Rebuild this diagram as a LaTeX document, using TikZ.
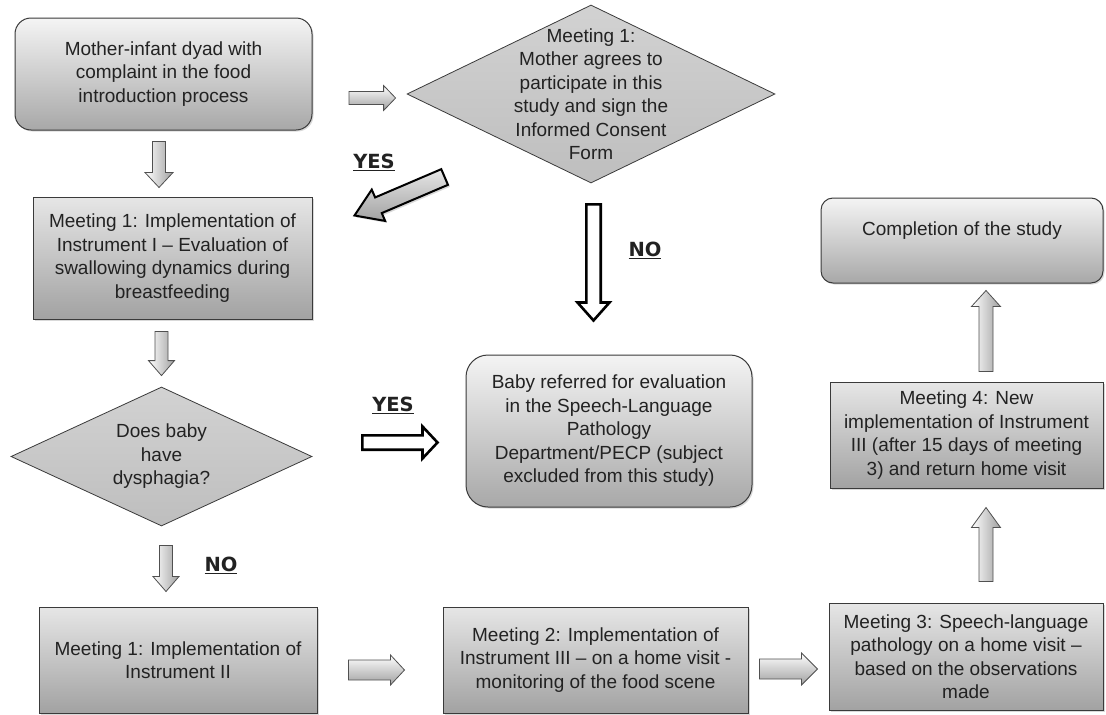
\documentclass[tikz,border=0pt]{standalone}
\usepackage{fontspec}
\setmainfont{Liberation Sans}
\newfontfamily\lblfont{DejaVu Sans}
\usepackage{tikz}
\usetikzlibrary{shapes.geometric,calc,shadows}
\definecolor{ink}{HTML}{222222}
\definecolor{edge}{HTML}{3A3A3A}
\definecolor{boxtop}{HTML}{F4F4F4}
\definecolor{boxbot}{HTML}{A8A8A8}
\definecolor{recttop}{HTML}{E6E6E6}
\definecolor{rectbot}{HTML}{A2A2A2}
\definecolor{dectop}{HTML}{D2D2D2}
\definecolor{decbot}{HTML}{BEBEBE}
\definecolor{arrline}{HTML}{505050}
\definecolor{arrdark}{HTML}{A0A0A0}
\tikzset{shaftw/.store in=\arrsw, headw/.store in=\arrhw, headl/.store in=\arrhl,
  shaftw=6.5, headw=13.5, headl=14}
\tikzstyle{txt} = [font=\fontsize{19}{23.5}\selectfont, align=center, text=ink]
\tikzstyle{lbl} = [font=\lblfont\bfseries\fontsize{19.5}{22}\selectfont, text=ink]
\tikzstyle{rbox} = [txt, draw=edge, line width=1pt, top color=boxtop, bottom color=boxbot,
  drop shadow={shadow xshift=1.5pt, shadow yshift=-1.5pt, opacity=0.3}]
\tikzstyle{sbox} = [txt, draw=edge, line width=1pt, top color=recttop, bottom color=rectbot,
  drop shadow={shadow xshift=1.5pt, shadow yshift=-1.5pt, opacity=0.3}]
\tikzstyle{dec} = [diamond, inner sep=0pt, draw=edge, line width=0.8pt, top color=dectop, bottom color=decbot]
\tikzstyle{blk} = [to path={
  let \p1=(\tikztostart), \p2=(\tikztotarget),
      \n1={veclen(\x2-\x1,\y2-\y1)},
      \n2={(\x2-\x1)/\n1}, \n3={(\y2-\y1)/\n1},
      \n4={\n1-\arrhl} in
  ({\x1-\arrsw*\n3},{\y1+\arrsw*\n2})
  -- ({\x1+\n4*\n2-\arrsw*\n3},{\y1+\n4*\n3+\arrsw*\n2})
  -- ({\x1+\n4*\n2-\arrhw*\n3},{\y1+\n4*\n3+\arrhw*\n2})
  -- (\p2)
  -- ({\x1+\n4*\n2+\arrhw*\n3},{\y1+\n4*\n3-\arrhw*\n2})
  -- ({\x1+\n4*\n2+\arrsw*\n3},{\y1+\n4*\n3-\arrsw*\n2})
  -- ({\x1+\arrsw*\n3},{\y1-\arrsw*\n2}) -- cycle}]
\tikzstyle{garrow} = [blk, draw=arrline, line width=0.8pt, line join=miter, top color=white, bottom color=arrdark]
\tikzstyle{vgrad} = [left color=white, right color=arrdark]
\tikzstyle{barrow} = [blk, draw=black, line width=2.6pt, line join=miter, fill=white]
\tikzstyle{darrow} = [blk, draw=black, line width=2pt, line join=miter, top color=recttop, bottom color=rectbot,
  drop shadow={shadow xshift=2pt, shadow yshift=-2pt, opacity=0.3}]

\begin{document}
\begin{tikzpicture}[x=1pt,y=-1pt]
  \useasboundingbox (0,0) rectangle (1106,715);
  % boxes
  \node[rbox, minimum width=297pt, minimum height=112pt, rounded corners=16pt] at (163.5,74) (start)
    {Mother-infant dyad with\\complaint in the food\\introduction process};
  \node[dec, minimum width=368pt, minimum height=178pt] at (591,94) (consent) {};
  \node[txt] at (consent) (consenttxt)
    {Meeting 1:\\Mother agrees to\\participate in this\\study and sign the\\Informed Consent\\Form};
  \node[sbox, minimum width=279pt, minimum height=122pt] at (172.5,258) (eval1)
    {Meeting 1: Implementation of\\Instrument I – Evaluation of\\swallowing dynamics during\\breastfeeding};
  \node[dec, minimum width=301pt, minimum height=139pt] at (161.5,456.5) (dysph) {};
  \node[txt] at (dysph) (dysphtxt) {Does baby\\have\\dysphagia?};
  \node[rbox, minimum width=286pt, minimum height=152pt, rounded corners=22pt] at (609,431) (refer)
    {Baby referred for evaluation\\in the Speech-Language\\Pathology\\Department/PECP (subject\\excluded from this study)};
  \node[sbox, minimum width=278pt, minimum height=106pt] at (178,660) (instr2)
    {Meeting 1: Implementation of\\Instrument II};
  \node[sbox, minimum width=305pt, minimum height=106pt] at (595.5,660) (instr3)
    {Meeting 2: Implementation of\\Instrument III – on a home visit -\\monitoring of the food scene};
  \node[sbox, minimum width=274pt, minimum height=107pt] at (966,656.5) (visit3)
    {Meeting 3: Speech-language\\pathology on a home visit –\\based on the observations\\made};
  \node[sbox, minimum width=273pt, minimum height=106pt] at (966.5,435) (visit4)
    {Meeting 4: New\\implementation of Instrument\\III (after 15 days of meeting\\3) and return home visit};
  \node[rbox, minimum width=282pt, minimum height=85pt, rounded corners=12pt] at (962,240.5) (done)
    {Completion of the study\\\mbox{}};

  % labels
  \node[lbl] at (374,162) (yes1) {\underline{YES}};
  \node[lbl] at (645,250) (no1) {\underline{NO}};
  \node[lbl] at (393,405) (yes2) {\underline{YES}};
  \node[lbl] at (221,565) (no2) {\underline{NO}};

  % arrows
  \draw[garrow, shaftw=6.5, headw=12.5, headl=12] ($(start.east)+(36.5,24)$) to ($(consent.west)+(-11,4)$);
  \draw[garrow, vgrad, shaftw=6.5, headw=14, headl=15] ($(start.south)+(-4.5,11)$) to ($(eval1.north)+(-13.5,-9)$);
  \draw[garrow, vgrad, shaftw=6.5, headw=13, headl=15] ($(eval1.south)+(-11,12)$) to ($(dysph.north)+(0,-11)$);
  \draw[garrow, vgrad, shaftw=6.5, headw=13, headl=15] ($(dysph.south)+(4.5,19)$) to ($(instr2.north)+(-12,-15)$);
  \draw[garrow, shaftw=10, headw=15, headl=14] ($(instr2.east)+(31,10)$) to ($(instr3.west)+(-38,10)$);
  \draw[garrow, shaftw=10, headw=16, headl=16] ($(instr3.east)+(11,9)$) to ($(visit3.west)+(-11,12.5)$);
  \draw[garrow, vgrad, shaftw=7, headw=14.5, headl=20] ($(visit3.north)+(20,-21)$) to ($(visit4.south)+(19.5,19)$);
  \draw[garrow, vgrad, shaftw=7, headw=14.5, headl=16] ($(visit4.north)+(19.5,-10)$) to ($(done.south)+(24,7)$);
  \draw[barrow, shaftw=7.2, headw=16, headl=18] ($(consent.south)+(2.5,21)$) to ($(refer.north)+(-15.5,-34)$);
  \draw[barrow, shaftw=7.2, headw=16, headl=15] ($(dysph.east)+(50,-14)$) to ($(refer.west)+(-28,11.5)$);
  \draw[darrow, shaftw=8.5, headw=17, headl=26] ($(consent.west)+(38,83)$) to ($(eval1.north east)+(42,19)$);
\end{tikzpicture}
\end{document}
